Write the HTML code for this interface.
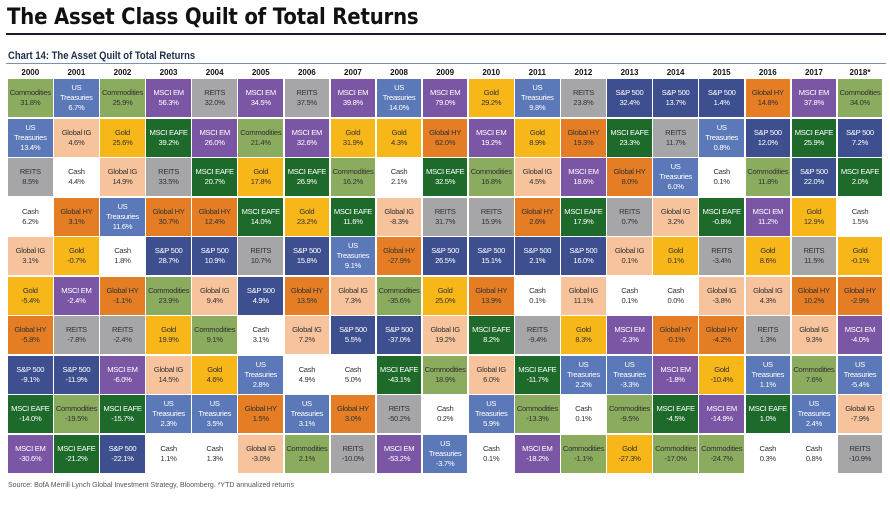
<!DOCTYPE html>
<html><head><meta charset="utf-8"><style>
body{margin:0;width:890px;height:507px;background:#fff;position:relative;overflow:hidden;font-family:"Liberation Sans",sans-serif}
.t{position:absolute;left:7px;top:5px;font:bold 22px "DejaVu Sans",sans-serif;color:#111;letter-spacing:-0.2px;transform:scaleX(0.895);transform-origin:0 0;white-space:nowrap}
.l1{position:absolute;left:6px;top:33px;width:880px;height:2px;background:#1a1a2a}
.s{position:absolute;left:8px;top:50px;font:bold 11px "Liberation Sans Narrow","Liberation Sans",sans-serif;color:#1f2d4a;transform:scaleX(0.86);transform-origin:0 0;white-space:nowrap}
.l2{position:absolute;left:6px;top:63px;width:880px;height:1px;background:#7d8fb3}
.yr{position:absolute;top:68px;left:8px;display:grid;grid-template-columns:repeat(19,44.6px);column-gap:1.5px;font:bold 8px "Liberation Sans",sans-serif;text-align:center;color:#111}
.g{position:absolute;left:8px;top:79px;display:grid;grid-template-columns:repeat(19,44.6px);grid-template-rows:repeat(10,38px);gap:1.5px;grid-auto-flow:column}
.c{display:flex;align-items:center;justify-content:center;text-align:center;font-size:7.6px;line-height:10px;letter-spacing:-0.3px;color:#333}
.co{background:#8bab5f}.ut{background:#5b78b8;color:#fff}.em{background:#7b56a5;color:#fff}.re{background:#a6a6a8}
.go{background:#f8b719}.ig{background:#f6c39c}.ea{background:#1d6a2b;color:#fff}.hy{background:#e47d24}
.sp{background:#3d4f8e;color:#fff}.ca{background:#fff}
.src{position:absolute;left:8px;top:482px;font-size:7px;color:#555}
</style></head><body>
<div class="t">The Asset Class Quilt of Total Returns</div>
<div class="l1"></div>
<div class="s">Chart 14: The Asset Quilt of Total Returns</div>
<div class="l2"></div>
<div class="yr"><div>2000</div><div>2001</div><div>2002</div><div>2003</div><div>2004</div><div>2005</div><div>2006</div><div>2007</div><div>2008</div><div>2009</div><div>2010</div><div>2011</div><div>2012</div><div>2013</div><div>2014</div><div>2015</div><div>2016</div><div>2017</div><div>2018*</div></div>
<div class="g">
<div class="c co">Commodities<br>31.8%</div><div class="c ut">US<br>Treasuries<br>13.4%</div><div class="c re">REITS<br>8.5%</div><div class="c ca">Cash<br>6.2%</div><div class="c ig">Global IG<br>3.1%</div><div class="c go">Gold<br>-5.4%</div><div class="c hy">Global HY<br>-5.8%</div><div class="c sp">S&amp;P 500<br>-9.1%</div><div class="c ea">MSCI EAFE<br>-14.0%</div><div class="c em">MSCI EM<br>-30.6%</div>
<div class="c ut">US<br>Treasuries<br>6.7%</div><div class="c ig">Global IG<br>4.6%</div><div class="c ca">Cash<br>4.4%</div><div class="c hy">Global HY<br>3.1%</div><div class="c go">Gold<br>-0.7%</div><div class="c em">MSCI EM<br>-2.4%</div><div class="c re">REITS<br>-7.8%</div><div class="c sp">S&amp;P 500<br>-11.9%</div><div class="c co">Commodities<br>-19.5%</div><div class="c ea">MSCI EAFE<br>-21.2%</div>
<div class="c co">Commodities<br>25.9%</div><div class="c go">Gold<br>25.6%</div><div class="c ig">Global IG<br>14.9%</div><div class="c ut">US<br>Treasuries<br>11.6%</div><div class="c ca">Cash<br>1.8%</div><div class="c hy">Global HY<br>-1.1%</div><div class="c re">REITS<br>-2.4%</div><div class="c em">MSCI EM<br>-6.0%</div><div class="c ea">MSCI EAFE<br>-15.7%</div><div class="c sp">S&amp;P 500<br>-22.1%</div>
<div class="c em">MSCI EM<br>56.3%</div><div class="c ea">MSCI EAFE<br>39.2%</div><div class="c re">REITS<br>33.5%</div><div class="c hy">Global HY<br>30.7%</div><div class="c sp">S&amp;P 500<br>28.7%</div><div class="c co">Commodities<br>23.9%</div><div class="c go">Gold<br>19.9%</div><div class="c ig">Global IG<br>14.5%</div><div class="c ut">US<br>Treasuries<br>2.3%</div><div class="c ca">Cash<br>1.1%</div>
<div class="c re">REITS<br>32.0%</div><div class="c em">MSCI EM<br>26.0%</div><div class="c ea">MSCI EAFE<br>20.7%</div><div class="c hy">Global HY<br>12.4%</div><div class="c sp">S&amp;P 500<br>10.9%</div><div class="c ig">Global IG<br>9.4%</div><div class="c co">Commodities<br>9.1%</div><div class="c go">Gold<br>4.6%</div><div class="c ut">US<br>Treasuries<br>3.5%</div><div class="c ca">Cash<br>1.3%</div>
<div class="c em">MSCI EM<br>34.5%</div><div class="c co">Commodities<br>21.4%</div><div class="c go">Gold<br>17.8%</div><div class="c ea">MSCI EAFE<br>14.0%</div><div class="c re">REITS<br>10.7%</div><div class="c sp">S&amp;P 500<br>4.9%</div><div class="c ca">Cash<br>3.1%</div><div class="c ut">US<br>Treasuries<br>2.8%</div><div class="c hy">Global HY<br>1.5%</div><div class="c ig">Global IG<br>-3.0%</div>
<div class="c re">REITS<br>37.5%</div><div class="c em">MSCI EM<br>32.6%</div><div class="c ea">MSCI EAFE<br>26.9%</div><div class="c go">Gold<br>23.2%</div><div class="c sp">S&amp;P 500<br>15.8%</div><div class="c hy">Global HY<br>13.5%</div><div class="c ig">Global IG<br>7.2%</div><div class="c ca">Cash<br>4.9%</div><div class="c ut">US<br>Treasuries<br>3.1%</div><div class="c co">Commodities<br>2.1%</div>
<div class="c em">MSCI EM<br>39.8%</div><div class="c go">Gold<br>31.9%</div><div class="c co">Commodities<br>16.2%</div><div class="c ea">MSCI EAFE<br>11.6%</div><div class="c ut">US<br>Treasuries<br>9.1%</div><div class="c ig">Global IG<br>7.3%</div><div class="c sp">S&amp;P 500<br>5.5%</div><div class="c ca">Cash<br>5.0%</div><div class="c hy">Global HY<br>3.0%</div><div class="c re">REITS<br>-10.0%</div>
<div class="c ut">US<br>Treasuries<br>14.0%</div><div class="c go">Gold<br>4.3%</div><div class="c ca">Cash<br>2.1%</div><div class="c ig">Global IG<br>-8.3%</div><div class="c hy">Global HY<br>-27.9%</div><div class="c co">Commodities<br>-35.6%</div><div class="c sp">S&amp;P 500<br>-37.0%</div><div class="c ea">MSCI EAFE<br>-43.1%</div><div class="c re">REITS<br>-50.2%</div><div class="c em">MSCI EM<br>-53.2%</div>
<div class="c em">MSCI EM<br>79.0%</div><div class="c hy">Global HY<br>62.0%</div><div class="c ea">MSCI EAFE<br>32.5%</div><div class="c re">REITS<br>31.7%</div><div class="c sp">S&amp;P 500<br>26.5%</div><div class="c go">Gold<br>25.0%</div><div class="c ig">Global IG<br>19.2%</div><div class="c co">Commodities<br>18.9%</div><div class="c ca">Cash<br>0.2%</div><div class="c ut">US<br>Treasuries<br>-3.7%</div>
<div class="c go">Gold<br>29.2%</div><div class="c em">MSCI EM<br>19.2%</div><div class="c co">Commodities<br>16.8%</div><div class="c re">REITS<br>15.9%</div><div class="c sp">S&amp;P 500<br>15.1%</div><div class="c hy">Global HY<br>13.9%</div><div class="c ea">MSCI EAFE<br>8.2%</div><div class="c ig">Global IG<br>6.0%</div><div class="c ut">US<br>Treasuries<br>5.9%</div><div class="c ca">Cash<br>0.1%</div>
<div class="c ut">US<br>Treasuries<br>9.8%</div><div class="c go">Gold<br>8.9%</div><div class="c ig">Global IG<br>4.5%</div><div class="c hy">Global HY<br>2.6%</div><div class="c sp">S&amp;P 500<br>2.1%</div><div class="c ca">Cash<br>0.1%</div><div class="c re">REITS<br>-9.4%</div><div class="c ea">MSCI EAFE<br>-11.7%</div><div class="c co">Commodities<br>-13.3%</div><div class="c em">MSCI EM<br>-18.2%</div>
<div class="c re">REITS<br>23.8%</div><div class="c hy">Global HY<br>19.3%</div><div class="c em">MSCI EM<br>18.6%</div><div class="c ea">MSCI EAFE<br>17.9%</div><div class="c sp">S&amp;P 500<br>16.0%</div><div class="c ig">Global IG<br>11.1%</div><div class="c go">Gold<br>8.3%</div><div class="c ut">US<br>Treasuries<br>2.2%</div><div class="c ca">Cash<br>0.1%</div><div class="c co">Commodities<br>-1.1%</div>
<div class="c sp">S&amp;P 500<br>32.4%</div><div class="c ea">MSCI EAFE<br>23.3%</div><div class="c hy">Global HY<br>8.0%</div><div class="c re">REITS<br>0.7%</div><div class="c ig">Global IG<br>0.1%</div><div class="c ca">Cash<br>0.1%</div><div class="c em">MSCI EM<br>-2.3%</div><div class="c ut">US<br>Treasuries<br>-3.3%</div><div class="c co">Commodities<br>-9.5%</div><div class="c go">Gold<br>-27.3%</div>
<div class="c sp">S&amp;P 500<br>13.7%</div><div class="c re">REITS<br>11.7%</div><div class="c ut">US<br>Treasuries<br>6.0%</div><div class="c ig">Global IG<br>3.2%</div><div class="c go">Gold<br>0.1%</div><div class="c ca">Cash<br>0.0%</div><div class="c hy">Global HY<br>-0.1%</div><div class="c em">MSCI EM<br>-1.8%</div><div class="c ea">MSCI EAFE<br>-4.5%</div><div class="c co">Commodities<br>-17.0%</div>
<div class="c sp">S&amp;P 500<br>1.4%</div><div class="c ut">US<br>Treasuries<br>0.8%</div><div class="c ca">Cash<br>0.1%</div><div class="c ea">MSCI EAFE<br>-0.8%</div><div class="c re">REITS<br>-3.4%</div><div class="c ig">Global IG<br>-3.8%</div><div class="c hy">Global HY<br>-4.2%</div><div class="c go">Gold<br>-10.4%</div><div class="c em">MSCI EM<br>-14.9%</div><div class="c co">Commodities<br>-24.7%</div>
<div class="c hy">Global HY<br>14.8%</div><div class="c sp">S&amp;P 500<br>12.0%</div><div class="c co">Commodities<br>11.8%</div><div class="c em">MSCI EM<br>11.2%</div><div class="c go">Gold<br>8.6%</div><div class="c ig">Global IG<br>4.3%</div><div class="c re">REITS<br>1.3%</div><div class="c ut">US<br>Treasuries<br>1.1%</div><div class="c ea">MSCI EAFE<br>1.0%</div><div class="c ca">Cash<br>0.3%</div>
<div class="c em">MSCI EM<br>37.8%</div><div class="c ea">MSCI EAFE<br>25.9%</div><div class="c sp">S&amp;P 500<br>22.0%</div><div class="c go">Gold<br>12.9%</div><div class="c re">REITS<br>11.5%</div><div class="c hy">Global HY<br>10.2%</div><div class="c ig">Global IG<br>9.3%</div><div class="c co">Commodities<br>7.6%</div><div class="c ut">US<br>Treasuries<br>2.4%</div><div class="c ca">Cash<br>0.8%</div>
<div class="c co">Commodities<br>34.0%</div><div class="c sp">S&amp;P 500<br>7.2%</div><div class="c ea">MSCI EAFE<br>2.0%</div><div class="c ca">Cash<br>1.5%</div><div class="c go">Gold<br>-0.1%</div><div class="c hy">Global HY<br>-2.9%</div><div class="c em">MSCI EM<br>-4.0%</div><div class="c ut">US<br>Treasuries<br>-5.4%</div><div class="c ig">Global IG<br>-7.9%</div><div class="c re">REITS<br>-10.9%</div>
</div>
<div class="src">Source: BofA Merrill Lynch Global Investment Strategy, Bloomberg. *YTD annualized returns</div>
</body></html>
